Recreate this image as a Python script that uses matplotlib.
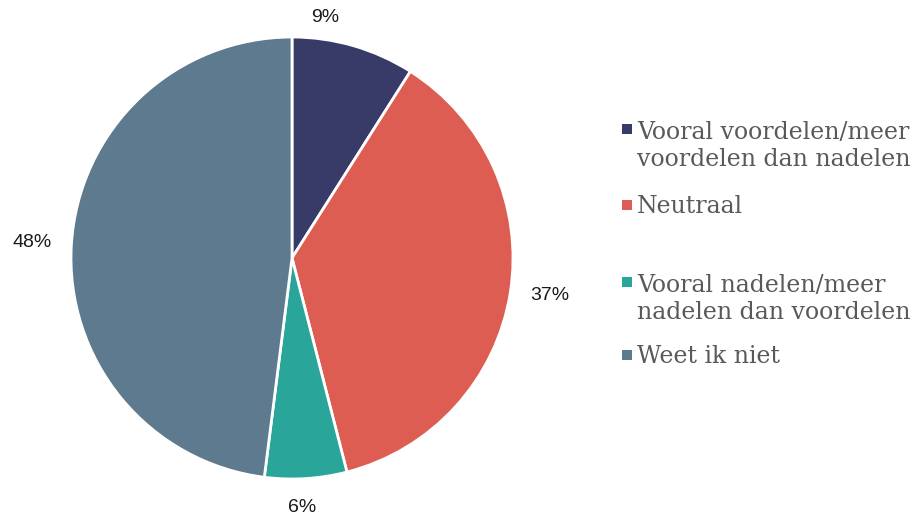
import matplotlib.pyplot as plt
from matplotlib.patches import Rectangle

categories = [
    "Vooral voordelen/meer\nvoordelen dan nadelen",
    "Neutraal",
    "Vooral nadelen/meer\nnadelen dan voordelen",
    "Weet ik niet",
]
shares = [9, 37, 6, 48]
colors = ["#383B68", "#DD5D52", "#2AA59A", "#5E7A8E"]
legend_baselines_px = [137, 213, 290, 363]

W, H = 914, 517
fig = plt.figure(figsize=(W / 100, H / 100), dpi=100)

cx, cy, r = 292, 258, 221
ax = fig.add_axes([(cx - r) / W, (H - cy - r) / H, 2 * r / W, 2 * r / H])
wedges, texts = ax.pie(
    shares,
    colors=colors,
    labels=[f"{v}%" for v in shares],
    labeldistance=1.09,
    startangle=90,
    counterclock=False,
    radius=1.0,
    wedgeprops=dict(edgecolor="white", linewidth=2),
    textprops=dict(fontsize=14, family="Liberation Sans", color="#1a1a1a"),
)
# small slices: labels sit nearer the vertical in the original
texts[0].set_position((0.15, 1.086))
texts[0].set_ha("center")
texts[2].set_position((0.045, -1.127))
texts[2].set_ha("center")

ax.set_xlim(-1, 1)
ax.set_ylim(-1, 1)
ax.set_aspect("equal")
ax.axis("off")

for label, color, base in zip(categories, colors, legend_baselines_px):
    n_lines = label.count("\n")
    fig.text(
        637 / W,
        1 - (base + n_lines * 29) / H,
        label,
        fontsize=17,
        family="DejaVu Serif",
        color="#595959",
        ha="left",
        va="baseline",
        linespacing=1.25,
    )
    fig.add_artist(
        Rectangle(
            (622 / W, 1 - (base - 3) / H),
            10 / W,
            10 / H,
            transform=fig.transFigure,
            facecolor=color,
            edgecolor="none",
        )
    )

fig.savefig("out.png", dpi=100)
